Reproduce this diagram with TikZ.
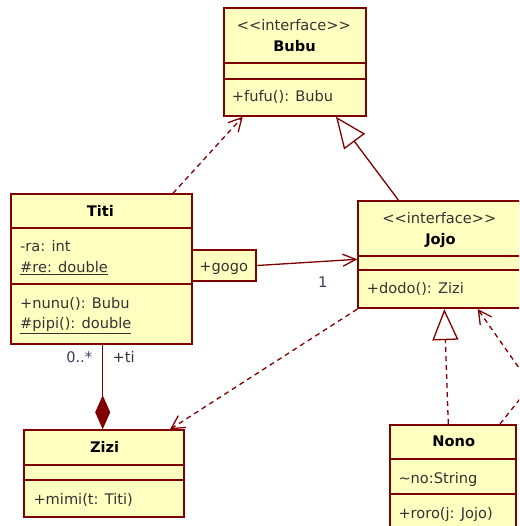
\documentclass[tikz,border=0pt]{standalone}
\usepackage{fontspec}
\setmainfont{DejaVu Sans}[Ligatures=TeXOff]
\usetikzlibrary{arrows.meta}
\definecolor{umlred}{HTML}{800000}
\definecolor{umlfill}{HTML}{FFFFC0}
\definecolor{umltext}{HTML}{333333}
\definecolor{umllabel}{HTML}{3A3A5C}

\begin{document}
\begin{tikzpicture}[x=1pt,y=-1pt,font=\fontsize{14.6}{17}\selectfont,
    cls/.style={draw=umlred,fill=umlfill,line width=1.8pt,inner sep=0pt,anchor=north west},
    sep/.style={draw=umlred,line width=1.8pt},
    member/.style={anchor=base west,inner sep=0pt,text=umltext},
    stereo/.style={anchor=base,inner sep=0pt,text=umltext},
    title/.style={anchor=base,inner sep=0pt,font=\fontsize{14.6}{17}\selectfont\bfseries},
    lbl/.style={anchor=base,inner sep=0pt,text=umllabel},
    link/.style={umlred,line width=1.3pt},
    dep/.style={link,dash pattern=on 5pt off 4pt,-{Straight Barb[length=13pt,width=14pt]}},
    real/.style={link,-{Triangle[open,length=31pt,width=26pt]}},
    assoc/.style={link,-{Straight Barb[length=13pt,width=12pt]}},
    comp/.style={link,-{Diamond[length=34pt,width=15pt,fill=umlred]}}]
        \useasboundingbox (0,0) rectangle (519,526);
        \clip (0,0) rectangle (519,526);
        \node[cls,minimum width=142.3pt,minimum height=107.7pt] (bubu) at (222.7,7.3) {};
        \node[cls,minimum width=180.7pt,minimum height=149.4pt] (titi) at (10,193.3) {};
        \node[cls,minimum width=64pt,minimum height=30.7pt] (gogo) at (190.7,249.3) {};
        \node[cls,minimum width=165.4pt,minimum height=107.3pt] (jojo) at (357.3,200) {};
        \node[cls,minimum width=126pt,minimum height=106pt] (nono) at (389,424) {};
        \node[cls,minimum width=160pt,minimum height=86.7pt] (zizi) at (22.7,429.3) {};
        \draw[sep] ([yshift=-56pt]bubu.north west) -- ([yshift=-56pt]bubu.north east);
        \draw[sep] ([yshift=-71.4pt]bubu.north west) -- ([yshift=-71.4pt]bubu.north east);
        \draw[sep] ([yshift=-35pt]titi.north west) -- ([yshift=-35pt]titi.north east);
        \draw[sep] ([yshift=-91pt]titi.north west) -- ([yshift=-91pt]titi.north east);
        \draw[sep] ([yshift=-56pt]jojo.north west) -- ([yshift=-56pt]jojo.north east);
        \draw[sep] ([yshift=-70pt]jojo.north west) -- ([yshift=-70pt]jojo.north east);
        \draw[sep] ([yshift=-35.3pt]nono.north west) -- ([yshift=-35.3pt]nono.north east);
        \draw[sep] ([yshift=-70.3pt]nono.north west) -- ([yshift=-70.3pt]nono.north east);
        \draw[sep] ([yshift=-35.7pt]zizi.north west) -- ([yshift=-35.7pt]zizi.north east);
        \draw[sep] ([yshift=-50.7pt]zizi.north west) -- ([yshift=-50.7pt]zizi.north east);
        \node[stereo] (bubuS) at (293.8,30.7) {<<interface>>};
        \node[title] (bubuN) at (294.5,51.7) {Bubu};
        \node[member] (bubuO) at (231.7,101.7) {+fufu(): Bubu};
        \node[title] (titiN) at (100.3,216.7) {Titi};
        \node[member] (titiA) at (20,251.7) {-ra: int};
        \node[member] (titiB) at (20,272.7) {\underline{\#re: double}};
        \node[member] (titiO) at (20,308.3) {+nunu(): Bubu};
        \node[member] (titiP) at (20,328.3) {\underline{\#pipi(): double}};
        \node[stereo] (gogoN) at (223.8,271.7) {+gogo};
        \node[stereo] (jojoS) at (439.3,223.3) {<<interface>>};
        \node[title] (jojoN) at (440.5,244) {Jojo};
        \node[member] (jojoO) at (366.7,293.3) {+dodo(): Zizi};
        \node[title] (nonoN) at (453.8,446.7) {Nono};
        \node[member] (nonoA) at (398.3,483.3) {\textasciitilde no:String};
        \node[member] (nonoO) at (398.3,518.3) {+roro(j: Jojo)};
        \node[title] (ziziN) at (104.7,452.7) {Zizi};
        \node[member] (ziziO) at (33.3,504) {+mimi(t: Titi)};
        \node[lbl] (one) at (322.7,287.3) {1};
        \node[lbl] (many) at (79.2,362.3) {0..*};
        \node[stereo] (ti) at (123.7,362.3) {+ti};
        \coordinate (bend) at (531,385);
        \draw[dep] ([xshift=163pt]titi.north west) -- ([xshift=20pt]bubu.south west);
        \draw[real] ([xshift=41pt]jojo.north west) -- ([xshift=113.3pt]bubu.south west);
        \draw[assoc] (gogo.east) -- ([yshift=-59.3pt]jojo.north west);
        \draw[comp] ([xshift=92.7pt]titi.south west) -- ([xshift=80pt]zizi.north west);
        \draw[dep] (jojo.south west) -- ([xshift=147.3pt]zizi.north west);
        \draw[real,dash pattern=on 5pt off 4pt] ([xshift=59.3pt]nono.north west) -- ([xshift=87pt]jojo.south west);
        \draw[dep] ([xshift=111pt]nono.north west) -- (bend) -- ([xshift=120.4pt]jojo.south west);
    \end{tikzpicture}
\end{document}
